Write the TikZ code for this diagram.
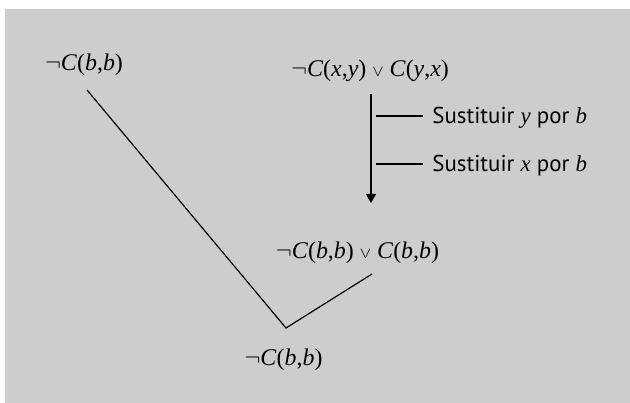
\documentclass[tikz,border=0pt]{standalone}
\usepackage{fontspec}
\setmainfont{Liberation Serif}
\newfontfamily\labelfont{PT Sans}
\usepackage{tikz}
\usetikzlibrary{positioning,arrows.meta,calc}
\definecolor{panel}{RGB}{205,205,205}
\newcommand{\cl}[2]{\textit{C}(\textit{#1},\textit{#2})}
\newcommand{\orr}{\ $\scriptstyle\vee$\ }
\newcommand{\var}[1]{{\rmfamily\itshape #1}}

\begin{document}
\begin{tikzpicture}[x=0.5bp, y=-0.5bp, font=\fontsize{12}{14}\selectfont,
  fml/.style={anchor=base, inner sep=0pt},
  sub/.style={anchor=base west, inner sep=0pt, font=\labelfont\fontsize{11.5}{13}\selectfont},
  edge/.style={line width=0.6pt, line join=miter},
  arr/.style={edge, -{Triangle[length=4.5bp, width=5bp]}}]
\useasboundingbox (0,0) rectangle (630,403);
\fill[panel] (5,9) rectangle (630,403);
% clauses
\node[fml] (neg) at (84,70.5) {$\neg$\cl{b}{b}};
\node[fml] (sym) at (370,76.5) {$\neg$\cl{x}{y}\orr\cl{y}{x}};
\node[fml] (inst) at (357.5,259) {$\neg$\cl{b}{b}\orr\cl{b}{b}};
\node[fml] (res) at (283.5,366) {$\neg$\cl{b}{b}};
% substitutions
\node[sub] (s1) at (432,123.5) {Sustituir \var{y} por \var{b}};
\node[sub] (s2) at (432,171.5) {Sustituir \var{x} por \var{b}};
\coordinate (a0) at (371,94);
\coordinate (a1) at (371,203);
\coordinate (t1) at (376,116);
\coordinate (t2) at (376,164);
\coordinate (l0) at (87,90);
\coordinate (v) at (286,328);
\coordinate (r0) at (372,274);
\draw[arr] (a0) -- (a1);
\draw[edge] (t1) -- (t1 -| 423,0);
\draw[edge] (t2) -- (t2 -| 423,0);
\draw[edge] (l0) -- (v) -- (r0);
\end{tikzpicture}
\end{document}
